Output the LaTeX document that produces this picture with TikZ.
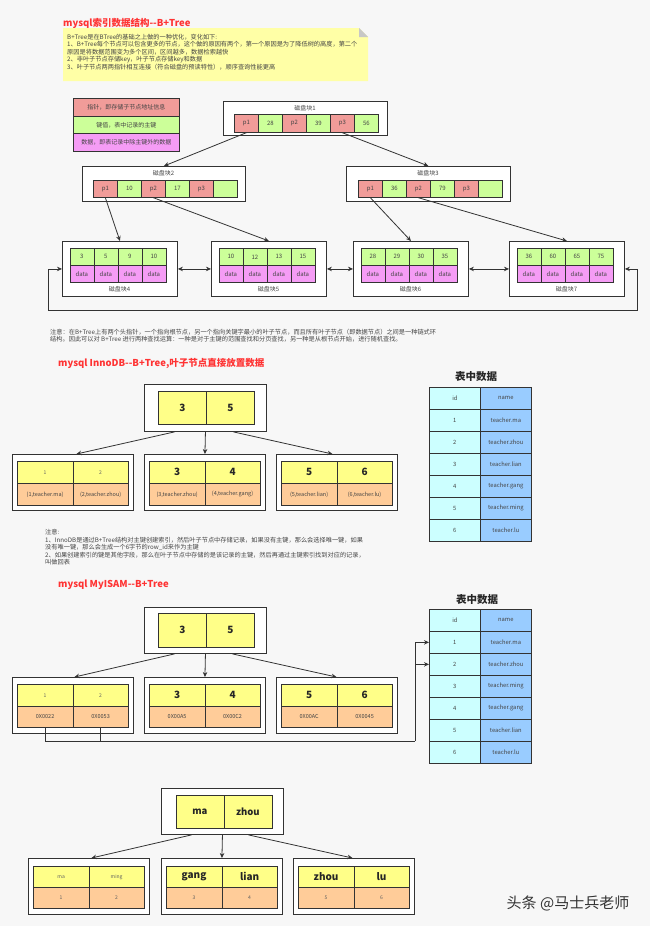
\documentclass[tikz,border=0pt]{standalone}
\usepackage{fontspec}
\setmainfont{Noto Sans CJK SC}
\usetikzlibrary{arrows.meta,calc}
\newcommand\myfs[1]{\fontsize{#1}{#1}\selectfont}
\definecolor{bg}{HTML}{F7F7F7}
\definecolor{cred}{HTML}{F19C99}
\definecolor{cgreen}{HTML}{CCFF99}
\definecolor{cmag}{HTML}{F59CF5}
\definecolor{cyel}{HTML}{FFFF88}
\definecolor{corg}{HTML}{FFCC99}
\definecolor{ccyan}{HTML}{CCFFFF}
\definecolor{cblue}{HTML}{99CCFF}
\definecolor{notey}{HTML}{FFFFA6}
\definecolor{titlered}{HTML}{FF3333}
\definecolor{ink}{HTML}{333333}
\definecolor{txt}{HTML}{444444}
\begin{document}
\begin{tikzpicture}[x=1pt,y=-1pt,
  outerbox/.style={draw=ink, line width=0.9pt, fill=white, inner sep=0pt, anchor=north west},
  cellbox/.style={draw=ink, line width=0.7pt, inner sep=0pt, text=txt, anchor=north west},
  tc/.style={cellbox, minimum width=24pt, minimum height=18pt, font=\myfs{6}},
  lc/.style={cellbox, minimum width=55.5pt, minimum height=22pt},
  rc/.style={cellbox, minimum width=48pt, minimum height=33pt, fill=cyel, font=\bfseries\myfs{10}, text=black!85},
  tabc/.style={cellbox, minimum width=51pt, minimum height=22pt, font=\myfs{5.8}},
  tsmall/.style={font=\myfs{5}, text=txt!85},
  tbig/.style={font=\bfseries\myfs{10}, text=black!85},
  tbot/.style={font=\myfs{5.5}, text=txt},
  lbl/.style={font=\myfs{6}, text=txt, inner sep=0pt},
  title/.style={font=\bfseries\myfs{9.5}, text=titlered, inner sep=0pt, anchor=west},
  ttitle/.style={font=\bfseries\myfs{10.5}, text=black!85, inner sep=0pt},
  notetext/.style={font=\fontsize{6.2}{7.5}\selectfont, text=txt, inner sep=0pt, align=left, anchor=north west},
  arr/.style={draw=ink, line width=0.8pt, -{Stealth[length=5pt,width=4.5pt]}},
  dbl/.style={draw=ink, line width=0.8pt, {Stealth[length=5pt,width=4.5pt]}-{Stealth[length=5pt,width=4.5pt]}},
  wire/.style={draw=ink, line width=0.8pt}]
\fill[bg] (0,0) rectangle (650,926);
\useasboundingbox (0,0) rectangle (650,926);

% ---------- section 1 ----------
\node[title] (t1) at (63,23) {mysql索引数据结构-{}-B+Tree};
\fill[notey] (63,28) -- (359,28) -- (368,37) -- (368,81) -- (63,81) -- cycle;
\fill[black!22] (359,28) -- (359,37) -- (368,37) -- cycle;
\node[notetext] (nt) at (67,34) {B+Tree是在BTree的基础之上做的一种优化，变化如下:\\
1、B+Tree每个节点可以包含更多的节点，这个做的原因有两个，第一个原因是为了降低树的高度，第二个\\
原因是将数据范围变为多个区间，区间越多，数据检索越快\\
2、非叶子节点存储key，叶子节点存储key和数据\\
3、叶子节点两两指针相互连接（符合磁盘的预读特性），顺序查询性能更高};

\node[cellbox, fill=cred, minimum width=106pt, minimum height=18pt, font=\myfs{6}] (lg1) at (73,98) {指针，即存储子节点地址信息};
\node[cellbox, fill=cgreen, minimum width=106pt, minimum height=17pt, font=\myfs{6}] (lg2) at (73,116) {键值，表中记录的主键};
\node[cellbox, fill=cmag, minimum width=106pt, minimum height=18pt, font=\myfs{6}] (lg3) at (73,133) {数据，即表记录中除主键外的数据};

\node[outerbox, minimum width=164pt, minimum height=34pt] (b1) at (223,101) {};
\node[lbl] (b1l) at (305,108) {磁盘块1};
\foreach \t/\c [count=\i from 0] in {p1/cred,28/cgreen,p2/cred,39/cgreen,p3/cred,56/cgreen}
  \node[tc, fill=\c] (b1c\i) at ({234+24*\i},114) {\t};

\node[outerbox, minimum width=163pt, minimum height=35pt] (b2) at (82,166) {};
\node[lbl] (b2l) at (163.5,173.5) {磁盘块2};
\foreach \t/\c [count=\i from 0] in {p1/cred,10/cgreen,p2/cred,17/cgreen,p3/cred,{}/cgreen}
  \node[tc, fill=\c, minimum height=17pt] (b2c\i) at ({93+24*\i},180) {\t};

\node[outerbox, minimum width=164pt, minimum height=35pt] (b3) at (346,166) {};
\node[lbl] (b3l) at (428,173.5) {磁盘块3};
\foreach \t/\c [count=\i from 0] in {p1/cred,36/cgreen,p2/cred,79/cgreen,p3/cred,{}/cgreen}
  \node[tc, fill=\c, minimum height=17pt] (b3c\i) at ({358+24*\i},180) {\t};

\foreach \nm/\x/\lab/\ka/\kb/\kc/\kd in {b4/62/磁盘块4/3/5/9/10, b5/211/磁盘块5/10/12/13/15, b6/353/磁盘块6/28/29/30/35, b7/509/磁盘块7/36/60/65/75} {
  \node[outerbox, minimum width=115pt, minimum height=55pt] (\nm) at (\x,241) {};
  \foreach \k [count=\j from 0] in {\ka,\kb,\kc,\kd} {
    \node[tc, fill=cgreen, minimum height=17pt] (\nm k\j) at ({\x+7.5+24*\j},248) {\k};
    \node[tc, fill=cmag, minimum height=17pt] (\nm d\j) at ({\x+7.5+24*\j},265) {data};
  }
  \node[lbl] (\nm l) at ({\x+57.5},289) {\lab};
}

\draw[arr] (b1c0.south) -- (b2.north);
\draw[arr] (b1c4.south) -- (b3.north);
\draw[arr] (b2c0.south) -- (b4.north);
\draw[arr] (b2c2.south) -- (b5.north);
\draw[arr] (b3c0.south) -- (b6.north);
\draw[arr] (b3c2.south) -- (b7.north);
\draw[dbl] (b4.east) -- (b5.west);
\draw[dbl] (b5.east) -- (b6.west);
\draw[dbl] (b6.east) -- (b7.west);
\coordinate (loopL) at (48,310);
\coordinate (loopR) at (637,310);
\draw[dbl] (b4.west) -| (loopL) -- (loopR) |- (b7.east);

\node[notetext, font=\fontsize{6.2}{7.6}\selectfont] (n1) at (50,328.5) {注意：在B+Tree上有两个头指针，一个指向根节点，另一个指向关键字最小的叶子节点，而且所有叶子节点（即数据节点）之间是一种链式环\\
结构。因此可以对 B+Tree 进行两种查找运算：一种是对于主键的范围查找和分页查找，另一种是从根节点开始，进行随机查找。};

% ---------- section 2: InnoDB ----------
\node[title] (t2) at (58,363) {mysql InnoDB-{}-B+Tree,叶子节点直接放置数据};
\node[outerbox, minimum width=122pt, minimum height=47pt] (ir) at (144,384) {};
\node[rc] (ir0) at (158,391) {3};
\node[rc] (ir1) at (206,391) {5};
\foreach \nm/\x/\ta/\tb/\da/\db/\st in {il1/12/1/2/{(1,teacher.ma)}/{(2,teacher.zhou)}/tsmall, il2/144/3/4/{(3,teacher.zhou)}/{(4,teacher.gang)}/tbig, il3/276/5/6/{(5,teacher.lian)}/{(6,teacher.lu)}/tbig} {
  \node[outerbox, minimum width=121pt, minimum height=56pt] (\nm) at (\x,454) {};
  \node[lc, fill=cyel, \st] (\nm a) at ({\x+5},461) {\ta};
  \node[lc, fill=cyel, \st] (\nm b) at ({\x+60.5},461) {\tb};
  \node[lc, fill=corg, tbot] (\nm c) at ({\x+5},483) {\da};
  \node[lc, fill=corg, tbot] (\nm d) at ({\x+60.5},483) {\db};
}
\draw[arr] ($(ir.south)+(-31,0)$) -- ($(il1.north)+(3.5,0)$);
\draw[arr] (ir.south) -- (il2.north);
\draw[arr] ($(ir.south)+(28,0)$) -- ($(il3.north)+(-4.5,0)$);

\node[ttitle] (tt1) at (476,377) {表中数据};
\foreach \a/\b [count=\r from 0] in {id/name,1/teacher.ma,2/teacher.zhou,3/teacher.lian,4/teacher.gang,5/teacher.ming,6/teacher.lu} {
  \node[tabc, fill=ccyan] (ta\r) at (429,{387+22*\r}) {\a};
  \node[tabc, fill=cblue] (tb\r) at (480,{387+22*\r}) {\b};
}

\node[notetext] (n2) at (45,529.5) {注意:\\
1、InnoDB是通过B+Tree结构对主键创建索引，然后叶子节点中存储记录，如果没有主键，那么会选择唯一键，如果\\
没有唯一键，那么会生成一个6字节的row\_id来作为主键\\
2、如果创建索引的键是其他字段，那么在叶子节点中存储的是该记录的主键，然后再通过主键索引找到对应的记录，\\
叫做回表};

% ---------- section 3: MyISAM ----------
\node[title] (t3) at (58,585) {mysql MyISAM-{}-B+Tree};
\node[outerbox, minimum width=122pt, minimum height=46pt] (mr) at (144,607) {};
\node[rc, minimum height=34pt] (mr0) at (158,613) {3};
\node[rc, minimum height=34pt] (mr1) at (206,613) {5};
\foreach \nm/\x/\ta/\tb/\da/\db/\st in {ml1/12/1/2/0X0022/0X0053/tsmall, ml2/144/3/4/0X00A5/0X00C2/tbig, ml3/276/5/6/0X00AC/0X0045/tbig} {
  \node[outerbox, minimum width=121pt, minimum height=56pt] (\nm) at (\x,677) {};
  \node[lc, fill=cyel, \st] (\nm a) at ({\x+5},684) {\ta};
  \node[lc, fill=cyel, \st] (\nm b) at ({\x+60.5},684) {\tb};
  \node[lc, fill=corg, tbot, minimum height=21pt] (\nm c) at ({\x+5},706) {\da};
  \node[lc, fill=corg, tbot, minimum height=21pt] (\nm d) at ({\x+60.5},706) {\db};
}
\draw[arr] ($(mr.south)+(-31,0)$) -- ($(ml1.north)+(1.5,0)$);
\draw[arr] (mr.south) -- (ml2.north);
\draw[arr] ($(mr.south)+(27,0)$) -- ($(ml3.north)+(-0.5,0)$);

\node[ttitle] (tt2) at (477,600) {表中数据};
\foreach \a/\b [count=\r from 0] in {id/name,1/teacher.ma,2/teacher.zhou,3/teacher.ming,4/teacher.gang,5/teacher.lian,6/teacher.lu} {
  \node[tabc, fill=ccyan] (ua\r) at (429,{609+22*\r}) {\a};
  \node[tabc, fill=cblue] (ub\r) at (480,{609+22*\r}) {\b};
}
\coordinate (bus) at (415,741);
\draw[wire] (ml1c.south) |- (bus);
\draw[wire] (ml1d.south) -- (ml1d.south |- bus);
\draw[arr] (bus) |- (ua1.west);
\draw[arr] (bus |- ua2.west) -- (ua2.west);

% ---------- section 4: secondary index ----------
\node[outerbox, minimum width=122pt, minimum height=46pt] (sr) at (161,788) {};
\node[rc, font=\bfseries\myfs{9.5}] (sr0) at (175.5,795) {ma};
\node[rc, font=\bfseries\myfs{9.5}] (sr1) at (223.5,795) {zhou};
\foreach \nm/\x/\ta/\tb/\da/\db/\st in {sl1/28/ma/ming/1/2/tsmall, sl2/161/gang/lian/3/4/tbig, sl3/293/zhou/lu/5/6/tbig} {
  \node[outerbox, minimum width=121pt, minimum height=56pt] (\nm) at (\x,858) {};
  \node[lc, fill=cyel, \st, minimum height=21pt] (\nm a) at ({\x+5},866) {\ta};
  \node[lc, fill=cyel, \st, minimum height=21pt] (\nm b) at ({\x+60.5},866) {\tb};
  \node[lc, fill=corg, tsmall, minimum height=21pt] (\nm c) at ({\x+5},887) {\da};
  \node[lc, fill=corg, tsmall, minimum height=21pt] (\nm d) at ({\x+60.5},887) {\db};
}
\draw[arr] ($(sr.south)+(-31,0)$) -- ($(sl1.north)+(2.5,0)$);
\draw[arr] (sr.south) -- (sl2.north);
\draw[arr] ($(sr.south)+(26,0)$) -- ($(sl3.north)+(-1.5,0)$);

\node[font=\myfs{15}, text=black!80, inner sep=0pt] (wm) at (568,903) {头条 @马士兵老师};
\end{tikzpicture}
\end{document}
